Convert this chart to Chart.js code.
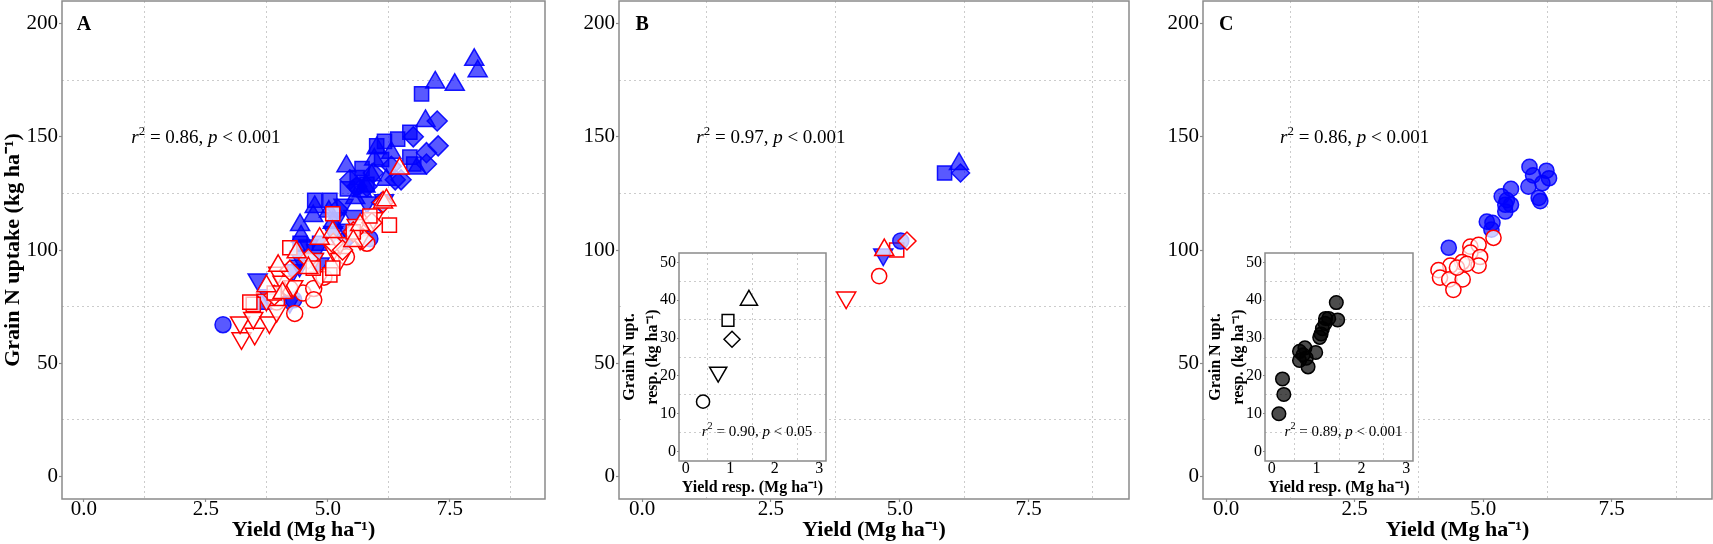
<!DOCTYPE html>
<html>
<head>
<meta charset="utf-8">
<script src="https://cdn.jsdelivr.net/npm/chart.js@4.4.1/dist/chart.umd.min.js"></script>
<style>
  body { margin: 0; background: #fff; }
  #wrap { position: relative; width: 1713px; height: 544px; overflow: hidden; }
  canvas { position: absolute; }
</style>
</head>
<body>
<div id="wrap">
  <canvas id="mainA" width="547" height="544" style="left:0;top:0"></canvas>
  <canvas id="mainB" width="574" height="544" style="left:557px;top:0"></canvas>
  <canvas id="mainC" width="572" height="544" style="left:1141px;top:0"></canvas>
  <canvas id="insetB" width="211" height="246" style="left:617px;top:251px"></canvas>
  <canvas id="insetC" width="212" height="246" style="left:1203px;top:251px"></canvas>
</div>
<script>
// axis ticks (labelled) for main panels and insets
const xTicks = [0, 2.5, 5, 7.5];
const yTicks = [0, 50, 100, 150, 200];
const insetXTicks = [0, 1, 2, 3];
const insetYTicks = [0, 10, 20, 30, 40, 50];

// panel A : yield vs grain N uptake, [yield, uptake]
const aBlueTriangle = [[8.0,184],[8.07,179],[7.2,174],[7.6,173],[7.0,157],[5.38,137],[4.43,111],[4.73,119],[6.0,145],[6.82,136],[6.2,131],[5.77,128],[5.56,123],[4.7,115],[5.1,112],[5.02,117],[5.9,133],[5.95,140],[6.3,143],[5.7,126],[4.45,106]];
const aBlueSquare = [[6.92,169],[6.68,152],[6.43,149],[6.16,148],[6.0,146],[4.73,122],[5.04,122],[6.76,138],[6.68,141],[5.8,129],[5.4,127],[4.43,103],[4.83,103],[5.7,136],[6.1,140],[5.6,132],[3.7,77]];
const aBlueDiamond = [[7.24,157],[7.26,146],[7.02,143],[7.02,138],[6.75,150],[6.5,131],[6.38,131],[6.1,121],[5.38,105],[5.8,128],[5.45,131],[5.59,128],[5.93,134],[6.3,137],[5.2,118]];
const aBlueDown = [[3.56,87],[4.29,91],[4.71,96],[4.6,102],[5.11,108],[5.39,109],[5.18,114],[5.52,115],[4.83,94],[4.42,97],[3.78,80],[4.22,77],[5.32,120],[5.8,121],[6.15,122],[4.42,93],[4.76,100]];
const aBlueCircle = [[2.85,67],[5.86,105],[4.3,78],[5.6,128]];
const aRedTriangle = [[6.47,136],[3.98,93],[4.36,99],[4.83,105],[5.1,108],[5.66,111],[6.13,121],[4.07,81],[3.74,84],[4.6,92],[5.52,104],[6.2,122]];
const aRedSquare = [[6.26,111],[5.86,115],[4.22,101],[3.47,76],[3.4,77],[5.04,89],[5.1,92],[5.52,108],[3.9,81],[4.7,92],[5.1,116]];
const aRedDiamond = [[5.72,105],[5.52,108],[5.11,103],[5.3,100],[3.9,80],[4.22,91],[4.6,96],[6.13,121],[5.9,112]];
const aRedDown = [[3.23,61],[3.5,63],[3.2,68],[3.47,70],[3.8,68],[3.95,73],[3.98,90],[4.29,84],[4.71,96],[5.11,100],[5.25,96],[5.59,111],[5.93,114],[3.74,78],[4.83,88],[5.25,103],[5.66,105],[4.07,86]];
const aRedCircle = [[4.32,72],[4.49,81],[4.71,83],[4.92,88],[3.95,77],[5.8,103],[5.38,97],[4.71,78],[4.22,83]];

// panel B : treatment means
const bBlueTriangle = [[6.15,138]];
const bBlueSquare = [[5.87,134]];
const bBlueDiamond = [[6.18,134]];
const bBlueDown = [[4.68,98]];
const bBlueCircle = [[5.02,104]];
const bRedTriangle = [[4.7,100]];
const bRedSquare = [[4.94,100]];
const bRedDiamond = [[5.14,104]];
const bRedDown = [[3.96,79]];
const bRedCircle = [[4.6,88.5]];
// panel B inset : responses
const bInsetCircle = [[0.39,13.2]];
const bInsetDown = [[0.73,21]];
const bInsetDiamond = [[1.04,29.7]];
const bInsetSquare = [[0.95,34.7]];
const bInsetTriangle = [[1.42,40]];

// panel C : circles only
const cBlue = [[4.33,101],[5.07,112.5],[5.18,112],[5.16,109],[5.36,123.7],[5.54,127],[5.43,120],[5.54,120],[5.43,117],[5.46,122],[5.9,136.7],[5.88,128],[5.97,133],[6.23,135],[6.28,131.7],[6.15,129.5],[6.08,123],[6.11,121.6]];
const cRed = [[5.2,105.4],[4.75,101.5],[4.91,102.3],[4.75,98.8],[4.94,96.9],[4.91,93.1],[4.59,94.6],[4.36,93.1],[4.13,91.1],[4.16,87.8],[4.34,87],[4.6,87],[4.42,82.4],[4.49,92.2],[4.68,93.9]];
const cInset = [[0.16,10],[0.27,15.1],[0.24,19.2],[0.62,26.5],[0.74,27.4],[0.62,24.1],[0.81,22.4],[0.77,24.7],[0.7,25.6],[0.98,26.2],[1.07,30.2],[1.1,31.1],[1.19,33.9],[1.2,35.2],[1.27,35.2],[1.47,34.8],[1.44,39.4],[1.13,32.5]];

const FONT = '"Liberation Serif", "Times New Roman", serif';
const BLUE_FILL = 'rgba(0,0,255,0.65)', BLUE_LINE = 'rgba(0,0,255,0.9)';
const RED_FILL = 'rgba(255,255,255,0.7)', RED_LINE = '#ff0000';
const GRID = '#cccccc', FRAME = '#8a8a8a';

const SHAPES = {
  circle:   { style: 'circle',   r: 8,  rot: 0 },
  triangle: { style: 'triangle', r: 11, rot: 0 },
  square:   { style: 'rect',     r: 10, rot: 0 },
  diamond:  { style: 'rectRot',  r: 10, rot: 0 },
  down:     { style: 'triangle', r: 11, rot: 180 }
};

function ds(arr, shape, fill, line, scale) {
  const s = SHAPES[shape];
  return {
    data: arr.map(p => ({ x: p[0], y: p[1] })),
    pointStyle: s.style,
    pointRadius: s.r * (scale || 1),
    pointRotation: s.rot,
    backgroundColor: fill,
    borderColor: line,
    pointBorderWidth: 1.5,
    showLine: false
  };
}

// white card behind the inset plots
const cardPlugin = {
  id: 'card',
  beforeDraw(chart, args, opts) {
    if (!opts.on) return;
    const c = chart.ctx;
    c.save();
    c.fillStyle = '#fff';
    c.fillRect(4, 0, chart.width - 4, chart.height);
    c.restore();
  }
};

// grey panel border
const framePlugin = {
  id: 'frame',
  afterDraw(chart) {
    const a = chart.chartArea, c = chart.ctx;
    c.save();
    c.strokeStyle = FRAME;
    c.lineWidth = 1.5;
    c.strokeRect(a.left, a.top, a.right - a.left, a.bottom - a.top);
    c.restore();
  }
};

// text with italic / superscript parts, placed in data coordinates
const notesPlugin = {
  id: 'notes',
  afterDatasetsDraw(chart, args, opts) {
    const c = chart.ctx;
    (opts.items || []).forEach(it => {
      const px = chart.scales.x.getPixelForValue(it.x);
      const py = chart.scales.y.getPixelForValue(it.y);
      c.save();
      let total = 0;
      const parts = it.parts.map(p => {
        const size = p.sup ? it.size * 0.68 : it.size;
        const font = (p.i ? 'italic ' : '') + (it.bold ? 'bold ' : '') + size + 'px ' + FONT;
        c.font = font;
        const w = c.measureText(p.t).width;
        total += w;
        return { font, w, t: p.t, sup: p.sup };
      });
      let cx = px - total / 2;
      const base = py + it.size * 0.33;
      c.fillStyle = '#000';
      c.textBaseline = 'alphabetic';
      parts.forEach(p => {
        c.font = p.font;
        c.fillText(p.t, cx, p.sup ? base - it.size * 0.42 : base);
        cx += p.w;
      });
      c.restore();
    });
  }
};

function rText(r2, pv, x, y, size) {
  return { x, y, size, parts: [
    { t: 'r', i: true }, { t: '2', sup: true }, { t: ' = ' + r2 + ', ' },
    { t: 'p', i: true }, { t: ' < ' + pv }
  ] };
}

function axis(o) {
  const minors = [];
  for (let i = 0; i < o.ticks.length - 1; i++) minors.push((o.ticks[i] + o.ticks[i + 1]) / 2);
  if (o.extraMinor) minors.push(o.extraMinor);
  const all = o.ticks.concat(minors).sort((a, b) => a - b);
  const isMajor = v => o.ticks.indexOf(v) >= 0;
  return {
    type: 'linear', min: o.min, max: o.max,
    afterBuildTicks: s => { s.ticks = all.map(v => ({ value: v })); },
    afterFit: s => {
      if (o.h !== undefined) s.height = o.h;
      if (o.w !== undefined) s.width = o.w;
      s.paddingTop = 0; s.paddingBottom = 0; s.paddingLeft = 0; s.paddingRight = 0;
    },
    grid: {
      drawTicks: true, tickLength: o.tl, tickWidth: 1.2, lineWidth: 1,
      color: c => (isMajor(c.tick.value) ? 'rgba(0,0,0,0)' : GRID),
      tickColor: c => (isMajor(c.tick.value) ? FRAME : 'rgba(0,0,0,0)')
    },
    border: { display: false, dash: [2, 3] },
    ticks: {
      autoSkip: false, maxRotation: 0, padding: o.pad, color: '#000',
      font: { family: FONT, size: o.tickSize, lineHeight: 1 },
      callback: v => (isMajor(v) ? o.fmt(v) : '')
    },
    title: o.title ? {
      display: true, text: o.title, color: '#000',
      font: { family: FONT, size: o.titleSize, weight: 'bold', lineHeight: o.titleLH || 1.2 },
      padding: o.titlePad
    } : { display: false }
  };
}

function mainChart(id, datasets, yTitle, letter, r2) {
  return new Chart(document.getElementById(id), {
    type: 'scatter',
    data: { datasets },
    plugins: [framePlugin, notesPlugin],
    options: {
      responsive: false, animation: false,
      layout: { autoPadding: false, padding: { top: 1, right: id === 'mainC' ? 1 : 2, left: 0, bottom: 0 } },
      plugins: {
        legend: { display: false }, tooltip: { enabled: false },
        notes: { items: [
          { x: 0, y: 200, size: 20, bold: true, parts: [{ t: letter }] },
          rText(r2, '0.001', 2.5, 150, 19)
        ] }
      },
      scales: {
        x: axis({ min: -0.45, max: 9.45, ticks: xTicks, extraMinor: 8.75, h: 45, tl: 3, pad: -3, tickSize: 21,
                  fmt: v => v.toFixed(1), title: 'Yield (Mg ha\u207B\u00B9)', titleSize: 22,
                  titlePad: { top: 0, bottom: 0 } }),
        y: axis({ min: -10, max: 210, ticks: yTicks, w: 62, tl: 3, pad: 1, tickSize: 21,
                  fmt: v => String(v), title: yTitle ? 'Grain N uptake (kg ha\u207B\u00B9)' : null,
                  titleSize: 22, titlePad: { top: 0, bottom: 0 } })
      }
    }
  });
}

function insetChart(id, datasets, r2, pv) {
  return new Chart(document.getElementById(id), {
    type: 'scatter',
    data: { datasets },
    plugins: [cardPlugin, framePlugin, notesPlugin],
    options: {
      responsive: false, animation: false,
      layout: { autoPadding: false, padding: { top: 2, right: 2, left: 0, bottom: 0 } },
      plugins: {
        legend: { display: false }, tooltip: { enabled: false },
        card: { on: true },
        notes: { items: [rText(r2, pv, 1.6, 5.5, 15)] }
      },
      scales: {
        x: axis({ min: -0.15, max: 3.15, ticks: insetXTicks, h: 36, tl: 2, pad: -2, tickSize: 16,
                  fmt: v => String(v), title: 'Yield resp. (Mg ha\u207B\u00B9)', titleSize: 16,
                  titlePad: { top: 0, bottom: 0 } }),
        y: axis({ min: -2.5, max: 52.5, ticks: insetYTicks, extraMinor: 45, w: 62, tl: 2, pad: 1, tickSize: 16,
                  fmt: v => String(v), title: ['Grain N upt.', 'resp. (kg ha\u207B\u00B9)'],
                  titleSize: 16, titleLH: 1.4, titlePad: { top: 2, bottom: 0 } })
      }
    }
  });
}

mainChart('mainA', [
  ds(aRedTriangle, 'triangle', RED_FILL, RED_LINE),
  ds(aRedSquare, 'square', RED_FILL, RED_LINE),
  ds(aRedDiamond, 'diamond', RED_FILL, RED_LINE),
  ds(aRedDown, 'down', RED_FILL, RED_LINE),
  ds(aRedCircle, 'circle', RED_FILL, RED_LINE),
  ds(aBlueTriangle, 'triangle', BLUE_FILL, BLUE_LINE),
  ds(aBlueSquare, 'square', BLUE_FILL, BLUE_LINE),
  ds(aBlueDiamond, 'diamond', BLUE_FILL, BLUE_LINE),
  ds(aBlueDown, 'down', BLUE_FILL, BLUE_LINE),
  ds(aBlueCircle, 'circle', BLUE_FILL, BLUE_LINE)
], true, 'A', '0.86');

mainChart('mainB', [
  ds(bRedDiamond, 'diamond', RED_FILL, RED_LINE, 0.9),
  ds(bBlueCircle, 'circle', BLUE_FILL, BLUE_LINE),
  ds(bRedTriangle, 'triangle', RED_FILL, RED_LINE),
  ds(bBlueDown, 'down', BLUE_FILL, BLUE_LINE),
  ds(bRedSquare, 'square', RED_FILL, RED_LINE),
  ds(bRedDown, 'down', RED_FILL, RED_LINE),
  ds(bRedCircle, 'circle', RED_FILL, RED_LINE, 0.95),
  ds(bBlueDiamond, 'diamond', BLUE_FILL, BLUE_LINE, 0.9),
  ds(bBlueTriangle, 'triangle', BLUE_FILL, BLUE_LINE),
  ds(bBlueSquare, 'square', BLUE_FILL, BLUE_LINE)
], false, 'B', '0.97');

mainChart('mainC', [
  ds(cRed, 'circle', RED_FILL, RED_LINE, 0.95),
  ds(cBlue, 'circle', BLUE_FILL, BLUE_LINE, 0.95)
], false, 'C', '0.86');

const INK = '#000', WHITE = 'rgba(255,255,255,1)';
insetChart('insetB', [
  ds(bInsetCircle, 'circle', WHITE, INK, 0.82),
  ds(bInsetDown, 'down', WHITE, INK, 0.9),
  ds(bInsetDiamond, 'diamond', WHITE, INK, 0.8),
  ds(bInsetSquare, 'square', WHITE, INK, 0.83),
  ds(bInsetTriangle, 'triangle', WHITE, INK, 0.9)
], '0.90', '0.05');

insetChart('insetC', [
  ds(cInset, 'circle', 'rgba(0,0,0,0.7)', INK, 0.85)
], '0.89', '0.001');
</script>
</body>
</html>
